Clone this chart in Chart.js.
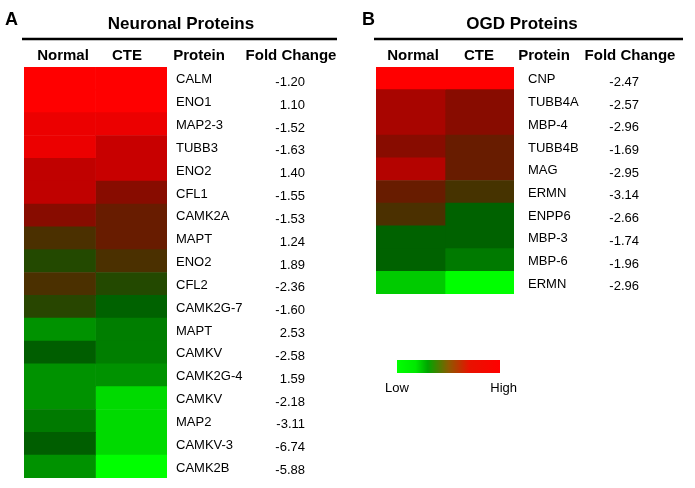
<!DOCTYPE html>
<html>
<head>
<meta charset="utf-8">
<script src="https://cdn.jsdelivr.net/npm/chart.js@4.4.1/dist/chart.umd.min.js"></script>
<style>
  body { margin: 0; background: #fff; }
  #wrap { position: relative; width: 695px; height: 488px; }
  canvas { position: absolute; top: 0; }
</style>
</head>
<body>
<div id="wrap">
  <canvas id="chartA" width="345" height="488" style="left:0"></canvas>
  <canvas id="chartB" width="350" height="488" style="left:345px"></canvas>
</div>
<script>
// panel A - neuronal proteins
const neuroProteins = ["CALM","ENO1","MAP2-3","TUBB3","ENO2","CFL1","CAMK2A","MAPT","ENO2","CFL2","CAMK2G-7","MAPT","CAMKV","CAMK2G-4","CAMKV","MAP2","CAMKV-3","CAMK2B"];
const neuroFold = [-1.20,1.10,-1.52,-1.63,1.40,-1.55,-1.53,1.24,1.89,-2.36,-1.60,2.53,-2.58,1.59,-2.18,-3.11,-6.74,-5.88];
// relative level 0 (low, green) .. 1 (high, red)
const neuroNormal = [1.0,1.0,0.93,0.93,0.78,0.78,0.64,0.50,0.42,0.50,0.43,0.21,0.34,0.21,0.21,0.27,0.34,0.21];
const neuroCTE = [1.0,1.0,0.93,0.80,0.80,0.64,0.56,0.56,0.50,0.42,0.33,0.26,0.26,0.21,0.07,0.07,0.07,0.0];

// panel B - OGD proteins
const ogdProteins = ["CNP","TUBB4A","MBP-4","TUBB4B","MAG","ERMN","ENPP6","MBP-3","MBP-6","ERMN"];
const ogdFold = [-2.47,-2.57,-2.96,-1.69,-2.95,-3.14,-2.66,-1.74,-1.96,-2.96];
const ogdNormal = [1.0,0.72,0.72,0.64,0.75,0.56,0.50,0.33,0.33,0.10];
const ogdCTE = [1.0,0.64,0.64,0.56,0.56,0.49,0.33,0.33,0.27,0.0];

const columns = ["Normal","CTE"];

const cellStops = [
  [0, [0,255,0]], [0.2, [0,150,0]], [0.35, [0,90,0]], [0.45, [50,65,0]],
  [0.55, [100,30,0]], [0.65, [140,10,0]], [0.8, [200,0,0]], [1, [255,0,0]]
];
const barStops = [
  [0, "rgb(0,255,0)"], [0.18, "rgb(0,232,0)"], [0.3, "rgb(0,165,0)"],
  [0.5, "rgb(140,90,0)"], [0.7, "rgb(232,18,0)"], [1, "rgb(255,0,0)"]
];

function heatColor(v) {
  for (let i = 1; i < cellStops.length; i++) {
    if (v <= cellStops[i][0]) {
      const a = cellStops[i-1], b = cellStops[i];
      const t = (v - a[0]) / (b[0] - a[0]);
      const c = a[1].map((x, k) => Math.round(x + (b[1][k] - x) * t));
      return `rgb(${c[0]},${c[1]},${c[2]})`;
    }
  }
  return "rgb(255,0,0)";
}

const FONT = "Arial, 'Liberation Sans', sans-serif";

const heatText = {
  id: "heatText",
  afterDraw(chart, args, o) {
    const ctx = chart.ctx;
    const y = chart.scales.y;
    ctx.save();
    ctx.fillStyle = "#000";
    ctx.textBaseline = "alphabetic";
    ctx.font = "bold 18px " + FONT;
    ctx.textAlign = "left";
    ctx.fillText(o.letter, o.letterX, 25);
    ctx.font = "bold 17px " + FONT;
    ctx.textAlign = "center";
    ctx.fillText(o.title, o.titleX, 29);
    ctx.strokeStyle = "#000";
    ctx.lineWidth = 2.5;
    ctx.beginPath();
    ctx.moveTo(o.lineX0, 39);
    ctx.lineTo(o.lineX1, 39);
    ctx.stroke();
    ctx.font = "bold 15px " + FONT;
    o.headers.forEach((h, i) => ctx.fillText(h, o.headerX[i], 60));
    ctx.font = "13px " + FONT;
    ctx.textBaseline = "middle";
    chart.data.labels.forEach((lab, i) => {
      const py = y.getPixelForValue(i);
      ctx.textAlign = "left";
      ctx.fillText(lab, o.protX, py + 1.5);
      ctx.textAlign = "right";
      ctx.fillText(o.fold[i].toFixed(2), o.foldX, py + 4);
    });
    if (o.colorbar) {
      const cb = o.colorbar;
      const g = ctx.createLinearGradient(cb.x, 0, cb.x + cb.w, 0);
      barStops.forEach(s => g.addColorStop(s[0], s[1]));
      ctx.fillStyle = g;
      ctx.fillRect(cb.x, cb.y, cb.w, cb.h);
      ctx.fillStyle = "#000";
      ctx.textBaseline = "alphabetic";
      ctx.textAlign = "left";
      ctx.fillText("Low", cb.x - 12, cb.y + 32);
      ctx.textAlign = "right";
      ctx.fillText("High", cb.x + cb.w + 17, cb.y + 32);
    }
    ctx.restore();
  }
};

function heatmap(id, proteins, fold, normal, cte, pad, text) {
  return new Chart(id, {
    type: "bar",
    data: {
      labels: proteins,
      datasets: [normal, cte].map((vals, k) => ({
        label: columns[k],
        data: vals.map(() => 1),
        backgroundColor: vals.map(heatColor),
        borderWidth: 0,
        barPercentage: 1,
        categoryPercentage: 1
      }))
    },
    options: {
      indexAxis: "y",
      responsive: false,
      animation: false,
      devicePixelRatio: 1,
      layout: { padding: pad },
      scales: {
        x: { stacked: true, min: 0, max: 2, display: false },
        y: { stacked: true, display: false }
      },
      plugins: {
        legend: { display: false },
        tooltip: { enabled: false },
        heatText: Object.assign({ fold: fold }, text)
      }
    },
    plugins: [heatText]
  });
}

heatmap("chartA", neuroProteins, neuroFold, neuroNormal, neuroCTE,
  { left: 24, top: 67, right: 178, bottom: 10 },
  { letter: "A", letterX: 5, title: "Neuronal Proteins", titleX: 181,
    lineX0: 22, lineX1: 337,
    headers: ["Normal","CTE","Protein","Fold Change"], headerX: [63, 127, 199, 291],
    protX: 176, foldX: 305 });

heatmap("chartB", ogdProteins, ogdFold, ogdNormal, ogdCTE,
  { left: 31, top: 67, right: 181, bottom: 194 },
  { letter: "B", letterX: 17, title: "OGD Proteins", titleX: 177,
    lineX0: 29, lineX1: 338,
    headers: ["Normal","CTE","Protein","Fold Change"], headerX: [68, 134, 199, 285],
    protX: 183, foldX: 294,
    colorbar: { x: 52, y: 360, w: 103, h: 13 } });
</script>
</body>
</html>
